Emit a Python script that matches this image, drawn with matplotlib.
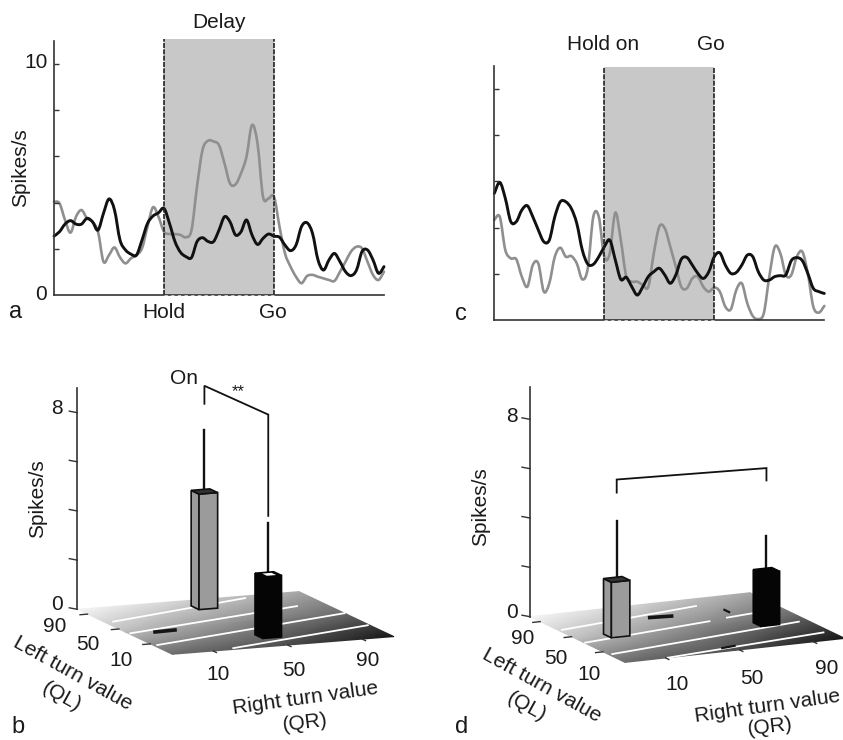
import numpy as np
import matplotlib
matplotlib.use('Agg')
import matplotlib.pyplot as plt
from matplotlib.patches import Polygon, PathPatch
from matplotlib.path import Path

plt.rcParams['font.family'] = ['Liberation Sans', 'DejaVu Sans']
plt.rcParams['font.size'] = 15

# time relative to hold (0) and go (1), one reading every 0.05
time_a = np.linspace(-1, 2, 61)
black_a = [2.55, 2.74, 3.07, 3.22, 3.07, 3.07, 3.32, 3.17, 2.81, 3.54, 4.16, 3.68, 2.38, 1.95, 1.77, 1.73,
           2.38, 3.10, 3.42, 3.56, 3.75, 3.10, 2.31, 1.85, 1.66, 1.62, 2.31, 2.48, 2.32, 2.31, 2.81, 3.39,
           3.17, 2.60, 2.74, 3.25, 2.60, 2.19, 2.45, 2.64, 2.55, 2.50, 2.16, 1.92, 2.16, 2.96, 3.13, 2.67,
           1.52, 1.08, 1.52, 1.80, 1.44, 1.01, 0.84, 1.08, 1.88, 1.95, 1.52, 0.94, 1.23]
gray_a = [4.04, 3.97, 3.25, 2.70, 3.39, 3.68, 3.32, 3.17, 2.74, 1.44, 1.73, 2.06, 1.63, 1.37, 1.59, 1.73,
          2.02, 2.96, 3.80, 3.39, 2.74, 2.64, 2.64, 2.60, 2.50, 2.81, 4.69, 6.28, 6.68, 6.65, 6.49, 5.70,
          4.83, 4.79, 5.27, 5.99, 7.36, 6.57, 4.26, 4.18, 4.26, 2.96, 1.80, 1.23, 0.79, 0.51, 0.82, 0.87,
          0.79, 0.72, 0.65, 0.61, 1.01, 1.44, 1.88, 2.09, 2.02, 1.44, 0.87, 0.65, 1.01]
black_c = [5.48, 5.96, 5.27, 4.26, 4.26, 4.76, 4.95, 4.47, 3.90, 3.39, 3.46, 4.47, 5.12, 5.12, 4.83, 4.18,
           3.03, 2.42, 2.41, 2.74, 3.17, 3.46, 2.60, 1.76, 1.85, 1.44, 1.08, 1.44, 1.88, 2.09, 2.24, 1.95,
           1.59, 1.95, 2.63, 2.71, 2.38, 2.02, 1.80, 2.09, 2.74, 2.91, 2.38, 2.02, 2.06, 2.38, 2.81, 2.74,
           2.09, 1.73, 1.73, 1.88, 1.92, 1.95, 2.57, 2.70, 2.57, 2.02, 1.37, 1.23, 1.15]
gray_c = [4.33, 4.47, 3.03, 2.67, 2.63, 1.88, 1.44, 2.38, 2.45, 1.23, 1.59, 2.74, 3.13, 2.74, 2.77, 2.45,
          1.76, 2.24, 4.47, 4.47, 2.74, 2.89, 4.65, 3.46, 1.88, 1.66, 1.66, 1.52, 1.44, 2.89, 4.04, 3.97,
          3.17, 2.31, 1.44, 1.37, 1.80, 1.88, 1.44, 1.23, 1.41, 1.23, 0.58, 0.46, 1.30, 1.59, 0.72, 0.17,
          0.04, 0.29, 1.88, 3.17, 2.89, 1.95, 1.95, 2.74, 2.96, 2.02, 0.58, 0.32, 0.61]

# bar panels: positions on the floor, heights and error tips in spikes/s
qr_b = [48.6, 50]
ql_b = [84.9, 6.9]
height_b = [4.7, 2.5]
tip_b = [7.2, 4.6]
qr_d = [9.5, 86]
ql_d = [43.2, 32.6]
height_d = [2.25, 2.15]
tip_d = [4.6, 3.54]

value_ticks = [10, 50, 90]
z_ticks = [0, 2, 4, 6, 8]

# white lines on the floor as (qr, ql) end points
lines_b = [((-7.5, 68), (76, 98)), ((-11, 38), (92, 70)), ((-10, 6), (107, 45)), ((22, -15), (106, 13))]
lines_d = [((-10, 67), (71, 87)), ((-11.5, 34), (63, 51)), ((74, 54.6), (89, 58)),
           ((-10, 3), (102, 29)), ((11, -18), (103, 0))]
specks_b = [((1.7, 36.5), (12.8, 37.4))]
specks_d = [((40, 73), (51, 71)), ((80, 72), (80, 66)), ((44, -10), (51.5, -8))]
floor_shade = [[0.97, 0.82, 0.66],
               [0.74, 0.56, 0.40],
               [0.42, 0.30, 0.08]]

QR_MIN, QR_MAX = -12, 107
QL_MAX, QL_MIN = 103, -18
BAR_W = 10

fig = plt.figure(figsize=(8.43, 7.40), dpi=100)
page = fig.add_axes([0, 0, 1, 1])
page.set_xlim(0, 843)
page.set_ylim(740, 0)
page.axis('off')


def smooth_trace(ax, x, y, color, lw):
    # curve through the read points (Catmull-Rom handles)
    pts = np.column_stack([x, y])
    verts = [pts[0]]
    codes = [Path.MOVETO]
    for i in range(len(pts) - 1):
        p0 = pts[max(i - 1, 0)]
        p1 = pts[i]
        p2 = pts[i + 1]
        p3 = pts[min(i + 2, len(pts) - 1)]
        verts += [p1 + (p2 - p0) / 6, p2 - (p3 - p1) / 6, p2]
        codes += [Path.CURVE4, Path.CURVE4, Path.CURVE4]
    ax.add_patch(PathPatch(Path(verts, codes), fc='none', ec=color, lw=lw, joinstyle='round',
                           capstyle='round', clip_on=False))


def trace_axes(left, top, black, gray, band_top):
    w = 330
    h = 254
    ax = fig.add_axes([left / 843, (740 - top - h) / 740, w / 843, h / 740])
    ax.set_xlim(-1, 2)
    ax.set_ylim(0, 11)
    ax.axvspan(0, 1, ymax=band_top / 11, color='#c8c8c8', lw=0, clip_on=False)
    for t in [0, 1]:
        ax.plot([t, t], [0, band_top], color='#222222', lw=1.2, ls=(0, (3, 0.8)), clip_on=False)
    smooth_trace(ax, time_a, gray, '#8f8f8f', 1.9)
    smooth_trace(ax, time_a, black, '#111111', 2.1)
    ax.spines[['top', 'right']].set_visible(False)
    ax.spines[['left', 'bottom']].set_color('#333333')
    ax.spines[['left', 'bottom']].set_linewidth(1.2)
    ax.plot([0, 1], [0, 0], color='#dddddd', lw=0.6, ls=(0, (4, 4)), clip_on=False, zorder=4)
    ax.set_xticks([])
    ax.set_yticks([2, 4, 6, 8, 10])
    ax.set_yticklabels([])
    ax.tick_params(axis='y', direction='in', length=3.5, width=1, color='#333333')
    ax.patch.set_alpha(0)
    return ax


trace_axes(54, 41, black_a, gray_a, 11.08)
trace_axes(494.3, 66, black_c, gray_c, 10.97)


def make_proj(x0, y0, ex, ey, k):
    def proj(qr, ql, z=0):
        a = (np.asarray(qr, float) - QR_MIN) / (QR_MAX - QR_MIN)
        b = (QL_MAX - np.asarray(ql, float)) / (QL_MAX - QL_MIN)
        return x0 + a * ex[0] + b * ey[0], y0 + a * ex[1] + b * ey[1] - z * k
    return proj


def draw_bar(proj, qr, ql, height, tip, face, top_face, edge):
    l, r = qr - BAR_W / 2, qr + BAR_W / 2
    f, bk = ql - BAR_W / 2, ql + BAR_W / 2
    faces = [[(l, bk), (l, f)], [(l, f), (r, f)]]
    x, y = proj(qr, ql, height)
    tx, ty = proj(qr, ql, tip)
    page.plot([x, tx], [y, ty], color='#111111', lw=1.7, zorder=4)
    for c in faces:
        pts = [proj(c[0][0], c[0][1], 0), proj(c[1][0], c[1][1], 0),
               proj(c[1][0], c[1][1], height), proj(c[0][0], c[0][1], height)]
        page.add_patch(Polygon(pts, fc=face, ec=edge, lw=1.2, zorder=5))
    pts = [proj(l, f, height), proj(r, f, height), proj(r, bk, height), proj(l, bk, height)]
    page.add_patch(Polygon(pts, fc=top_face, ec=edge, lw=1.2, zorder=5))


def draw_panel(proj, qr, ql, height, tip, lines, specks, z_top):
    grid_qr = [QR_MIN, (QR_MIN + QR_MAX) / 2, QR_MAX]
    grid_ql = [QL_MAX, (QL_MIN + QL_MAX) / 2, QL_MIN]
    q1, q2 = np.meshgrid(grid_qr, grid_ql)
    X, Y = proj(q1, q2)
    page.pcolormesh(X, Y, np.array(floor_shade), cmap='gray', vmin=0, vmax=1, shading='gouraud', zorder=1)

    for start, end in lines:
        x, y = proj([start[0], end[0]], [start[1], end[1]])
        page.plot(x, y, color='white', lw=1.3, zorder=2)
    for n, (start, end) in enumerate(specks):
        x, y = proj([start[0], end[0]], [start[1], end[1]])
        page.plot(x, y, color='#151515', lw=2.6 if n == 0 else 1.6, zorder=2)

    # vertical axis at the back corner
    x, y = proj([QR_MIN, QR_MIN], [QL_MAX, QL_MAX], np.array([0, z_top]))
    page.plot(x, y, color='#333333', lw=1.2, zorder=3)
    for z in z_ticks:
        x, y = proj(QR_MIN, QL_MAX, z)
        page.plot([x - 8, x], [y - 1.5, y], color='#333333', lw=1, zorder=3)
    for v in value_ticks:
        x, y = proj([QR_MIN - 4, QR_MIN], [v, v])
        page.plot(x, y, color='#333333', lw=1, zorder=3)
        x, y = proj([v, v], [QL_MIN - 4, QL_MIN])
        page.plot(x, y, color='#333333', lw=1, zorder=3)

    draw_bar(proj, qr[0], ql[0], height[0], tip[0], '#9b9b9b', '#333333', '#111111')
    draw_bar(proj, qr[1], ql[1], height[1], tip[1], '#050505', '#050505', '#050505')


proj_b = make_proj(77.3, 609.3, (221.7, -17.7), (95, 45), 24.58)
proj_d = make_proj(530, 616.7, (220, -24), (95, 45.7), 24.67)
draw_panel(proj_b, qr_b, ql_b, height_b, tip_b, lines_b, specks_b, 9)
draw_panel(proj_d, qr_d, ql_d, height_d, tip_d, lines_d, specks_d, 9.3)

# white cap on the black bar of panel b
cap = [proj_b(qr_b[1] - 2, ql_b[1] - 3, height_b[1]), proj_b(qr_b[1] + 3, ql_b[1] - 3, height_b[1]),
       proj_b(qr_b[1] + 3, ql_b[1] + 3, height_b[1]), proj_b(qr_b[1] - 2, ql_b[1] + 3, height_b[1])]
page.add_patch(Polygon(cap, fc='white', ec='none', zorder=6))

# comparison brackets, drawn in the same floor coordinates
for proj, qr, ql, z, drop in [(proj_b, qr_b, ql_b, 9.0, (8.27, 4.88)), (proj_d, qr_d, ql_d, 6.3, (5.77, 5.8))]:
    x = []
    y = []
    for q1, q2, zz in [(qr[0], ql[0], drop[0]), (qr[0], ql[0], z), (qr[1], ql[1], z), (qr[1], ql[1], drop[1])]:
        px, py = proj(q1, q2, zz)
        x.append(px)
        y.append(py)
    page.plot(x, y, color='#111111', lw=1.3, zorder=4, solid_joinstyle='miter')


def label(x, y, s, rot=0, size=15):
    page.text(x, y, s, ha='center', va='center', rotation=rot, rotation_mode='anchor',
              fontsize=size, color='#1a1a1a', zorder=8)


label(219, 22, 'Delay')
label(36, 63, '10')
label(41, 295, '0')
label(21, 168, 'Spikes/s', 90)
label(16, 312, 'a', size=17)
label(164, 313, 'Hold')
label(273, 313, 'Go')
label(226, 88, '**', size=12)

label(603, 45, 'Hold on')
label(711, 45, 'Go')
label(461, 314, 'c', size=17)

label(184, 378, 'On')
label(238, 392, '**', size=12)
label(57, 409, '8')
label(57, 605, '0')
label(38, 499, 'Spikes/s', 90)
label(55, 627, '90')
label(88, 645, '50')
label(121, 660, '10')
label(73, 673, 'Left turn value', -29)
label(62, 697, '(QL)', -29)
label(218, 675, '10')
label(294, 670, '50')
label(368, 660, '90')
label(305, 698, 'Right turn value', 8)
label(305, 723, '(QR)', 7)
label(18, 727, 'b', size=17)

label(512, 417, '8')
label(512, 613, '0')
label(481, 507, 'Spikes/s', 90)
label(523, 638, '90')
label(556, 659, '50')
label(589, 674, '10')
label(542, 685, 'Left turn value', -29)
label(527, 707, '(QL)', -29)
label(677, 684, '10')
label(752, 678, '50')
label(827, 668, '90')
label(767, 706, 'Right turn value', 8)
label(770, 727, '(QR)', 7)
label(462, 727, 'd', size=17)

fig.savefig('out.png', dpi=100)
